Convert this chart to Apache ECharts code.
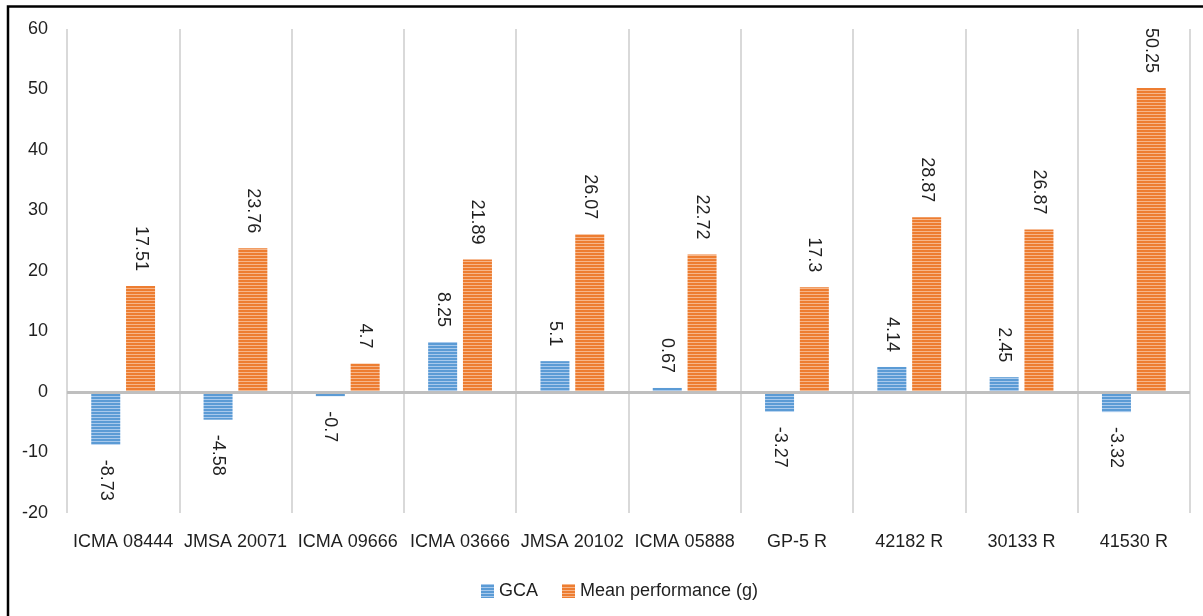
<!DOCTYPE html>
<html>
  <head>
    <meta charset="utf-8" />
    <title>GCA and mean performance</title>
    <script src="https://cdn.jsdelivr.net/npm/echarts@6/dist/echarts.min.js"></script>
  </head>
  <body style="margin: 0; padding: 0; border: 0; background: #fff">
    <div id="main" style="width: 1203px; height: 616px"></div>
    <script type="text/javascript">
      var categories = [
        "ICMA 08444", "JMSA 20071", "ICMA 09666", "ICMA 03666", "JMSA 20102",
        "ICMA 05888", "GP-5 R", "42182 R", "30133 R", "41530 R",
      ];
      var gca = [-8.73, -4.58, -0.7, 8.25, 5.1, 0.67, -3.27, 4.14, 2.45, -3.32];
      var meanPerf = [17.51, 23.76, 4.7, 21.89, 26.07, 22.72, 17.3, 28.87, 26.87, 50.25];
      var yTicks = { min: -20, max: 60, interval: 10 };

      // horizontal stripe fill, like the Excel pattern
      function stripes(base, light) {
        var c = document.createElement("canvas");
        c.width = 4;
        c.height = 3;
        var ctx = c.getContext("2d");
        ctx.fillStyle = base;
        ctx.fillRect(0, 0, 4, 3);
        ctx.fillStyle = light;
        ctx.fillRect(0, 0, 4, 1);
        return { image: c, repeat: "repeat" };
      }

      var font = "Liberation Sans";
      var textColor = "#1f1f1f";

      function withLabels(values) {
        return values.map(function (v) {
          var neg = v < 0;
          return {
            value: v,
            label: {
              position: neg ? "bottom" : "top",
              align: neg ? "left" : "right",
              verticalAlign: "middle",
            },
          };
        });
      }

      var labelBase = {
        show: true,
        rotate: -90,
        distance: 15,
        fontFamily: font,
        fontSize: 18,
        color: textColor,
      };

      var myChart = echarts.init(document.getElementById("main"));
      myChart.setOption({
        animation: false,
        textStyle: { fontFamily: font },
        graphic: [
          {
            type: "rect",
            shape: { x: 8, y: 6.5, width: 1400, height: 800 },
            style: { fill: null, stroke: "#000", lineWidth: 2.5 },
            z: 100,
          },
        ],
        grid: { left: 67, right: 13, top: 29, bottom: 103 },
        legend: {
          bottom: 11,
          left: 476,
          icon: "rect",
          itemWidth: 13,
          itemHeight: 14,
          itemGap: 24,
          textStyle: { fontFamily: font, fontSize: 18, color: textColor },
          data: ["GCA", "Mean performance (g)"],
        },
        xAxis: {
          type: "category",
          data: categories,
          axisLine: { show: false, onZero: false },
          axisTick: { show: false },
          splitLine: { show: true, interval: 0, lineStyle: { color: "#d9d9d9", width: 2 } },
          axisLabel: {
            interval: 0,
            margin: 20,
            fontFamily: font,
            fontSize: 18,
            color: textColor,
          },
        },
        yAxis: {
          type: "value",
          min: yTicks.min,
          max: yTicks.max,
          interval: yTicks.interval,
          axisLine: { show: false },
          axisTick: { show: false },
          splitLine: { show: false },
          axisLabel: {
            margin: 19,
            fontFamily: font,
            fontSize: 18,
            color: textColor,
          },
        },
        series: [
          {
            name: "GCA",
            type: "bar",
            barWidth: 29,
            barGap: "20%",
            data: withLabels(gca),
            itemStyle: { color: stripes("#5b9bd5", "#a8c9ec") },
            label: labelBase,
            markLine: {
              silent: true,
              symbol: "none",
              label: { show: false },
              lineStyle: { color: "#bfbfbf", width: 3, type: "solid" },
              data: [{ yAxis: 0 }],
            },
          },
          {
            name: "Mean performance (g)",
            type: "bar",
            barWidth: 29,
            barGap: "20%",
            data: withLabels(meanPerf),
            itemStyle: { color: stripes("#ed7d31", "#f6b68a") },
            label: labelBase,
          },
        ],
      });
    </script>
  </body>
</html>
